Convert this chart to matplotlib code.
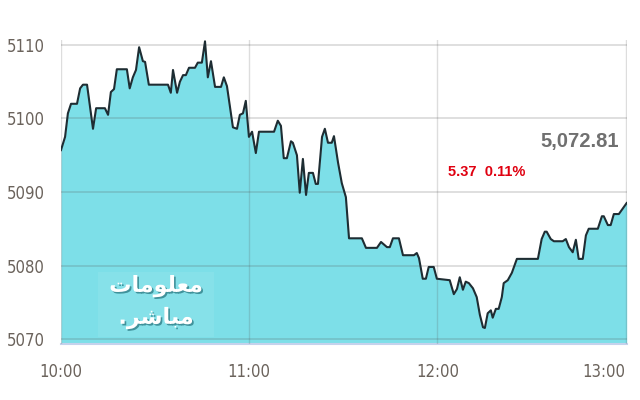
import matplotlib
matplotlib.use("Agg")
import matplotlib.pyplot as plt
import matplotlib.patheffects as pe
from matplotlib.patches import Rectangle

# minutes after 10:00 and index level
minutes = [
    0.0, 1.3, 2.2, 3.2, 5.1, 6.1, 7.0, 8.3, 10.2, 11.2, 14.0, 15.0, 15.9,
    16.9, 17.8, 21.0, 21.9, 22.9, 23.9, 24.9, 26.1, 26.8, 28.0, 34.1, 35.0,
    35.7, 37.0, 37.9, 38.9, 39.8, 40.8, 42.7, 43.6, 44.9, 45.9, 46.8, 47.8,
    49.1, 51.0, 51.9, 52.9, 54.8, 56.1, 57.0, 58.0, 58.9, 59.9, 60.9, 62.1,
    63.1, 67.9, 69.1, 70.1, 71.0, 72.0, 73.3, 73.9, 75.2, 76.1, 77.1, 78.1,
    79.0, 80.3, 81.2, 81.9, 83.2, 84.1, 85.1, 86.3, 87.0, 88.3, 89.5, 90.8,
    91.8, 95.9, 97.2, 100.7, 102.0, 103.9, 104.8, 105.8, 107.7, 109.0, 112.5,
    113.4, 114.1, 115.3, 116.3, 117.2, 118.8, 119.8, 123.9, 125.2, 126.2,
    127.1, 128.1, 129.0, 130.0, 131.3, 132.5, 133.5, 134.5, 135.1, 136.0,
    137.0, 137.6, 138.6, 139.5, 140.5, 141.1, 142.4, 143.7, 145.3, 152.0,
    153.2, 154.2, 154.8, 156.1, 157.1, 159.9, 160.9, 161.9, 163.1, 164.1,
    165.0, 166.3, 167.3, 168.2, 171.1, 172.4, 173.0, 174.3, 175.2, 176.2,
    177.8, 180.3,
]
values = [
    5095.7, 5097.5, 5100.7, 5102.0, 5102.0, 5104.1, 5104.6, 5104.6, 5098.6,
    5101.4, 5101.4, 5100.5, 5103.6, 5104.0, 5106.7, 5106.7, 5104.1, 5105.6,
    5106.6, 5109.7, 5107.8, 5107.7, 5104.6, 5104.6, 5103.5, 5106.6, 5103.5,
    5105.0, 5105.9, 5105.9, 5106.9, 5106.9, 5107.6, 5107.6, 5110.5, 5105.6,
    5107.8, 5104.3, 5104.3, 5105.6, 5104.4, 5098.8, 5098.6, 5100.5, 5100.7,
    5102.4, 5097.5, 5098.2, 5095.3, 5098.2, 5098.2, 5099.7, 5099.0, 5094.6,
    5094.6, 5096.9, 5096.7, 5095.0, 5089.9, 5094.5, 5089.6, 5092.6, 5092.6,
    5091.1, 5091.1, 5097.5, 5098.6, 5096.7, 5096.7, 5097.6, 5094.0, 5091.2,
    5089.3, 5083.7, 5083.7, 5082.4, 5082.4, 5083.2, 5082.5, 5082.5, 5083.7,
    5083.7, 5081.4, 5081.4, 5081.7, 5081.0, 5078.2, 5078.2, 5079.8, 5079.8,
    5078.2, 5078.0, 5076.1, 5076.8, 5078.4, 5076.7, 5077.8, 5077.6, 5076.9,
    5075.7, 5073.3, 5071.6, 5071.5, 5073.5, 5073.9, 5072.9, 5074.1, 5074.1,
    5075.7, 5077.6, 5078.0, 5079.0, 5080.9, 5080.9, 5083.6, 5084.6, 5084.6,
    5083.6, 5083.3, 5083.3, 5083.6, 5082.5, 5081.8, 5083.5, 5080.9, 5080.9,
    5084.1, 5085.0, 5085.0, 5086.7, 5086.7, 5085.5, 5085.5, 5087.0, 5087.0,
    5088.5,
]

tick_minutes = [0, 60, 120, 180]
tick_labels = ["10:00", "11:00", "12:00", "13:00"]
y_ticks = [5070, 5080, 5090, 5100, 5110]

last_value = "5,072.81"
change_text = "5.37  0.11%"
# "معلومات" / "مباشر" pre-shaped into presentation forms, visual order
logo_top = "\uFE95\uFE8E\uFEE3\uFEEE\uFEE0\uFECC\uFEE3"
logo_bottom = ".\uFEAE\uFEB7\uFE8E\uFE92\uFEE3"

label_color = "#6b635c"
fill_color = "#7ddfe8"

fig = plt.figure(figsize=(6.4, 4.0), dpi=100)
ax = fig.add_axes([0.0953, 0.14, 0.8844, 0.76])

y_floor = 5069.32
ax.fill_between(minutes, values, y_floor, color=fill_color, lw=0, zorder=1)
ax.plot(minutes, values, color="#1e2d33", lw=1.5, zorder=4)

ax.set_xlim(0, 180.4)
ax.set_ylim(y_floor, 5110.68)

for y in y_ticks:
    ax.axhline(y, color="#555555", alpha=0.22, lw=1.2, zorder=3)
for m in tick_minutes:
    ax.axvline(m, color="#555555", alpha=0.2, lw=1.0, zorder=3)

for side in ["top", "right", "left"]:
    ax.spines[side].set_visible(False)
ax.spines["bottom"].set_color("#c5d2ec")
ax.spines["bottom"].set_linewidth(1.5)

ax.set_yticks(y_ticks)
ax.set_yticklabels([str(y) for y in y_ticks])
ax.set_xticks(tick_minutes)
ax.set_xticklabels(tick_labels)
ax.tick_params(axis="both", length=0, labelcolor=label_color, labelsize=12)
ax.tick_params(axis="y", pad=12)
ax.tick_params(axis="x", pad=14)
for lab in ax.get_xticklabels() + ax.get_yticklabels():
    lab.set_family("DejaVu Sans")
    lab.set_fontstretch("condensed")
ax.get_xticklabels()[-1].set_horizontalalignment("right")

# watermark
ax.add_patch(Rectangle((0.065, 0.022), 0.205, 0.215, transform=ax.transAxes,
                       facecolor="white", alpha=0.07, lw=0, zorder=2))
shadow = [pe.withSimplePatchShadow(offset=(1.2, -1.2), shadow_rgbFace="#2f7f88", alpha=0.8)]
ax.text(0.168, 0.19, logo_top, transform=ax.transAxes, ha="center", va="center",
        fontsize=16, fontweight="bold", color="white", family="DejaVu Sans",
        path_effects=shadow, zorder=2)
ax.text(0.168, 0.085, logo_bottom, transform=ax.transAxes, ha="center", va="center",
        fontsize=16, fontweight="bold", color="white", family="DejaVu Sans",
        path_effects=shadow, zorder=2)

fig.text(0.967, 0.645, last_value, ha="right", va="center", fontsize=14.5,
         fontweight="bold", color="#707070", family="Liberation Sans")
fig.text(0.70, 0.57, change_text, ha="left", va="center", fontsize=10.5,
         fontweight="bold", color="#e00010", family="Liberation Sans")

fig.savefig("out.png", dpi=100)
